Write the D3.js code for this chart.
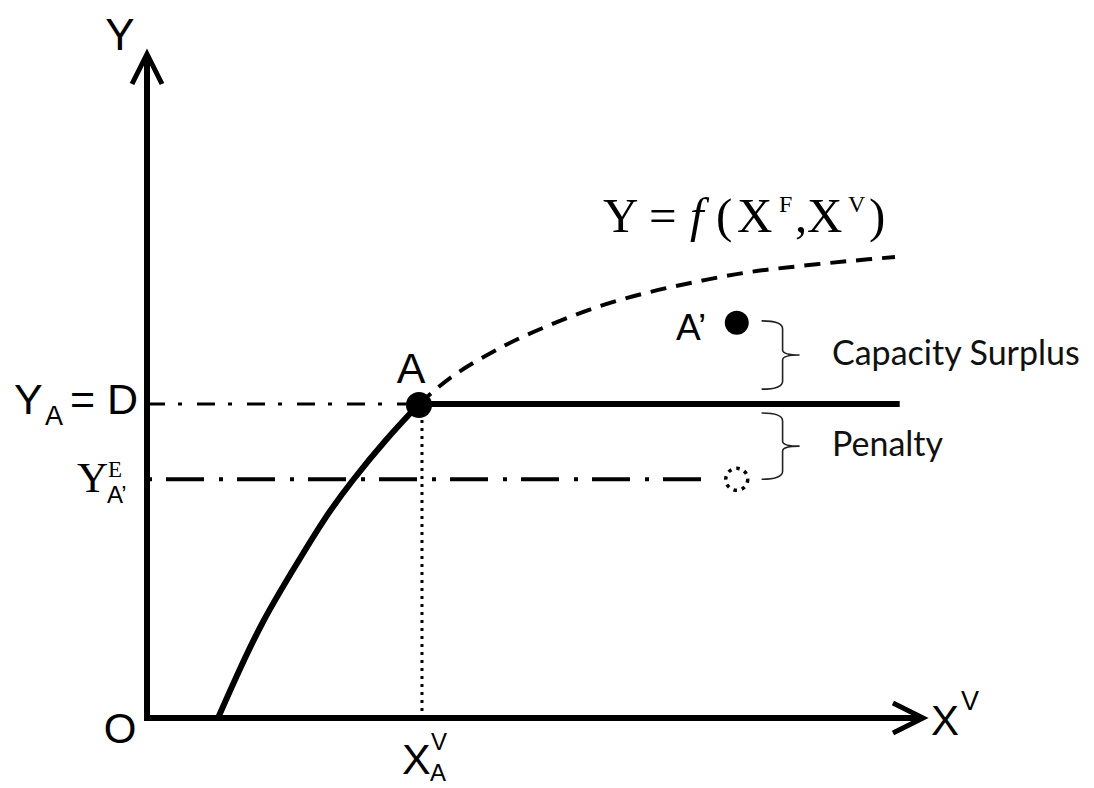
<!DOCTYPE html>
<html>
<head>
<meta charset="utf-8">
<script src="https://cdn.jsdelivr.net/npm/d3@7"></script>
<style>
  body { margin: 0; background: #fff; }
  svg { display: block; }
  .sans { font-family: "Liberation Sans", Arial, sans-serif; }
  .serif { font-family: "Liberation Serif", "Times New Roman", serif; }
  .calibri { font-family: Lato, "Open Sans", sans-serif; }
</style>
</head>
<body>
<svg id="chart" width="1094" height="788"></svg>
<script>
// production curve below the demand level (solid), in chart units
const riseCurve = [
  { x: 9.15, y: 0 }, { x: 11.92, y: 7.24 }, { x: 15.08, y: 14.78 }, { x: 18.81, y: 22.32 },
  { x: 22.81, y: 29.86 }, { x: 26.55, y: 35.90 }, { x: 30.80, y: 41.93 }, { x: 35.05, y: 47.36 }
];
// rest of Y = f(XF, XV) above demand (dashed)
const frontierCurve = [
  { x: 35.05, y: 47.36 }, { x: 39.05, y: 51.28 }, { x: 45.49, y: 55.81 }, { x: 51.93, y: 59.28 },
  { x: 58.38, y: 62.14 }, { x: 64.82, y: 64.25 }, { x: 71.26, y: 65.91 }, { x: 77.71, y: 67.27 },
  { x: 84.15, y: 68.17 }, { x: 90.59, y: 68.93 }, { x: 96.39, y: 69.53 }
];
const pointA = { x: 35.05, y: 47.36 };
const pointA2 = { x: 76.0, y: 59.6 };
const pointE = { x: 76.0, y: 36.0 };
const demandEnd = 97.0;
const penaltyLineEnd = 72.8;
const braces = [
  { label: 'Capacity Surplus', top: 59.9, bottom: 49.6 },
  { label: 'Penalty', top: 46.0, bottom: 36.0 }
];
const braceX = 79.2;

const svg = d3.select('#chart');

const xScale = d3.scaleLinear().domain([0, 100]).range([147, 923]);
const yScale = d3.scaleLinear().domain([0, 100]).range([718, 55]);

const line = d3.line()
    .x(d => xScale(d.x))
    .y(d => yScale(d.y))
    .curve(d3.curveCatmullRom);

// Y_A = D dash-dot guide
svg.append('line')
    .attr('x1', xScale(0)).attr('x2', xScale(pointA.x))
    .attr('y1', yScale(pointA.y)).attr('y2', yScale(pointA.y))
    .attr('stroke', '#000').attr('stroke-width', 3)
    .attr('stroke-dasharray', '18,13,4,15');

// Y^E_A' dash-dot line
svg.append('line')
    .attr('x1', xScale(0) + 1).attr('x2', xScale(penaltyLineEnd))
    .attr('y1', yScale(pointE.y)).attr('y2', yScale(pointE.y))
    .attr('stroke', '#000').attr('stroke-width', 4)
    .attr('stroke-dasharray', '4,14,38,15');

// dotted drop line from A
svg.append('line')
    .attr('x1', xScale(pointA.x) + 3).attr('x2', xScale(pointA.x) + 3)
    .attr('y1', yScale(pointA.y)).attr('y2', yScale(0))
    .attr('stroke', '#000').attr('stroke-width', 3)
    .attr('stroke-dasharray', '3,5');

// dashed frontier
svg.append('path')
    .attr('d', line(frontierCurve))
    .attr('fill', 'none')
    .attr('stroke', '#000').attr('stroke-width', 4)
    .attr('stroke-dasharray', '16,10');

// solid rising curve
svg.append('path')
    .attr('d', line.curve(d3.curveNatural)(riseCurve))
    .attr('fill', 'none')
    .attr('stroke', '#000').attr('stroke-width', 6);

// demand level (solid)
svg.append('line')
    .attr('x1', xScale(pointA.x)).attr('x2', xScale(demandEnd))
    .attr('y1', yScale(pointA.y)).attr('y2', yScale(pointA.y))
    .attr('stroke', '#000').attr('stroke-width', 6);

// axes
svg.append('path')
    .attr('d', `M${xScale(0)},${yScale(100)} L${xScale(0)},${yScale(0)} L${xScale(100)},${yScale(0)}`)
    .attr('fill', 'none')
    .attr('stroke', '#000').attr('stroke-width', 6)
    .attr('stroke-linejoin', 'miter');

// arrow heads
svg.append('path')
    .attr('d', `M${xScale(0) - 15},${yScale(100) + 29} L${xScale(0)},${yScale(100) - 1} L${xScale(0) + 15},${yScale(100) + 29}`)
    .attr('fill', 'none').attr('stroke', '#000').attr('stroke-width', 5);
svg.append('path')
    .attr('d', `M${xScale(100) - 30},${yScale(0) - 15} L${xScale(100)},${yScale(0)} L${xScale(100) - 30},${yScale(0) + 15}`)
    .attr('fill', 'none').attr('stroke', '#000').attr('stroke-width', 5);

// points
svg.append('circle')
    .attr('cx', xScale(pointA.x)).attr('cy', yScale(pointA.y) + 1)
    .attr('r', 13).attr('fill', '#000');
svg.append('circle')
    .attr('cx', xScale(pointA2.x)).attr('cy', yScale(pointA2.y))
    .attr('r', 12).attr('fill', '#000');
svg.append('circle')
    .attr('cx', xScale(pointE.x)).attr('cy', yScale(pointE.y))
    .attr('r', 11).attr('fill', 'none')
    .attr('stroke', '#000').attr('stroke-width', 3.5)
    .attr('stroke-dasharray', '3.5,5');

// braces
braces.forEach(b => {
    const x0 = xScale(braceX), y0 = yScale(b.top), y1 = yScale(b.bottom);
    const xm = x0 + 21, ym = (y0 + y1) / 2;
    svg.append('path')
        .attr('d', `M${x0},${y0} Q${xm},${y0} ${xm},${y0 + 8} L${xm},${ym - 5} Q${xm},${ym} ${xm + 17},${ym}
                    Q${xm},${ym} ${xm},${ym + 5} L${xm},${y1 - 8} Q${xm},${y1} ${x0},${y1}`)
        .attr('fill', 'none').attr('stroke', '#222').attr('stroke-width', 1.6);
    svg.append('text')
        .attr('class', 'calibri')
        .attr('x', 832).attr('y', ym + 10)
        .style('font-size', '34px').attr('fill', '#111')
        .text(b.label);
});

// axis labels
svg.append('text').attr('class', 'sans')
    .attr('x', 120).attr('y', 50).attr('text-anchor', 'middle')
    .style('font-size', '44px').text('Y');
svg.append('text').attr('class', 'sans')
    .attr('x', 120).attr('y', 743).attr('text-anchor', 'middle')
    .style('font-size', '42px').text('O');

const xv = svg.append('text').attr('class', 'sans').attr('x', 931).attr('y', 735).style('font-size', '42px');
xv.append('tspan').text('X');
xv.append('tspan').attr('x', 961).attr('y', 710).style('font-size', '27px').text('V');

const xva = svg.append('text').attr('class', 'sans').attr('x', 402).attr('y', 774).style('font-size', '43px');
xva.append('tspan').text('X');
xva.append('tspan').attr('x', 431).attr('y', 750).style('font-size', '24px').text('V');
xva.append('tspan').attr('x', 430).attr('y', 781).style('font-size', '24px').text('A');

// point labels
svg.append('text').attr('class', 'sans')
    .attr('x', xScale(pointA.x) - 8).attr('y', 383).attr('text-anchor', 'middle')
    .style('font-size', '43px').text('A');
svg.append('text').attr('class', 'sans')
    .attr('x', 676).attr('y', 340)
    .style('font-size', '37px').text('A\u2019');

// Y_A = D
const ya = svg.append('text').attr('class', 'sans').attr('x', 14).attr('y', 414).style('font-size', '43px');
ya.append('tspan').text('Y');
ya.append('tspan').attr('x', 45).attr('y', 425).style('font-size', '27px').text('A');
ya.append('tspan').attr('x', 70).attr('y', 414).text('= D');

// Y^E_A'
const ye = svg.append('text').attr('class', 'serif').attr('x', 77).attr('y', 492).style('font-size', '43px');
ye.append('tspan').text('Y');
ye.append('tspan').attr('x', 108).attr('y', 477).style('font-size', '23px').text('E');
ye.append('tspan').attr('class', 'sans').attr('x', 107).attr('y', 503).style('font-size', '24px').text('A\u2019');

// formula
const fm = svg.append('text').attr('class', 'serif').attr('y', 232).style('font-size', '49px');
fm.append('tspan').attr('x', 603).text('Y');
fm.append('tspan').attr('x', 649).text('=');
fm.append('tspan').attr('x', 690).style('font-style', 'italic').text('f');
fm.append('tspan').attr('x', 716).text('(');
fm.append('tspan').attr('x', 737).text('X');
fm.append('tspan').attr('x', 779).attr('y', 212).style('font-size', '24px').text('F');
fm.append('tspan').attr('x', 795).attr('y', 232).text(',');
fm.append('tspan').attr('x', 807).text('X');
fm.append('tspan').attr('x', 848).attr('y', 212).style('font-size', '24px').text('V');
fm.append('tspan').attr('x', 869).attr('y', 232).text(')');
</script>
</body>
</html>
